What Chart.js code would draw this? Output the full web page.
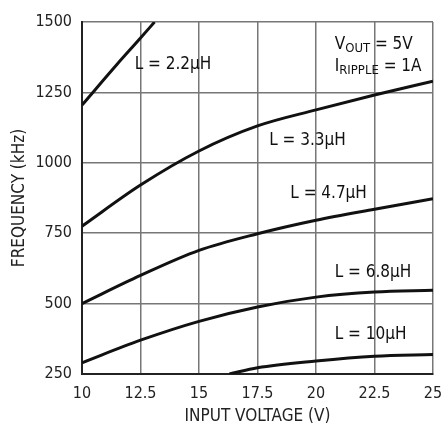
<!DOCTYPE html>
<html>
<head>
<meta charset="utf-8">
<script src="https://cdn.jsdelivr.net/npm/chart.js@4"></script>
<style>
  html, body { margin: 0; padding: 0; background: #fff; }
  #wrap { width: 443px; height: 425px; }
</style>
</head>
<body>
<div id="wrap"><canvas id="myChart"></canvas></div>
<script>
// input voltage (V) / frequency (kHz)
var l22x = [10, 11.5, 12.5, 13.1];
var l22y = [1205, 1350, 1443, 1500];
var l33x = [10, 12.5, 15, 17.5, 20, 22.5, 25];
var l33y = [775, 921, 1042, 1131, 1188, 1241, 1290];
var l47x = [10, 12.5, 15, 17.5, 20, 22.5, 25];
var l47y = [500, 600, 689, 748, 796, 835, 872];
var l68x = [10, 12.5, 15, 17.5, 20, 22.5, 25];
var l68y = [290, 370, 437, 488, 523, 541, 547];
var l10x = [16.3, 17.5, 20, 22.5, 25];
var l10y = [250, 272, 296, 313, 319];

var xTicks = [10, 12.5, 15, 17.5, 20, 22.5, 25];
var yTicks = [250, 500, 750, 1000, 1250, 1500];

// curve labels: [text, x, y]
var curveLabels = [
    ['L = 2.2µH', 12.25, 1350],
    ['L = 3.3µH', 18.0, 1080],
    ['L = 4.7µH', 18.9, 890],
    ['L = 6.8µH', 20.8, 610],
    ['L = 10µH', 20.8, 390]
];

var FONT = "'Liberation Sans Narrow', 'DejaVu Sans Condensed', 'Liberation Sans', sans-serif";

function pts(xs, ys) {
    var out = [];
    for (var i = 0; i < xs.length; i++) {
        out.push({x: xs[i], y: ys[i]});
    }
    return out;
}

function curve(xs, ys) {
    return {
        data: pts(xs, ys),
        borderColor: '#111',
        borderWidth: 3,
        pointRadius: 0,
        cubicInterpolationMode: 'monotone',
        fill: false
    };
}

var labelPlugin = {
    id: 'labels',
    afterDatasetsDraw: function(chart) {
        var ctx = chart.ctx;
        var xs = chart.scales.x, ys = chart.scales.y;
        ctx.save();
        ctx.fillStyle = '#111';
        ctx.font = '17px ' + FONT;
        ctx.textBaseline = 'middle';
        ctx.textAlign = 'left';
        curveLabels.forEach(function(l) {
            ctx.fillText(l[0], xs.getPixelForValue(l[1]), ys.getPixelForValue(l[2]));
        });
        // V_OUT / I_RIPPLE note with subscripts
        var x0 = xs.getPixelForValue(20.8);
        var y1 = ys.getPixelForValue(1420);
        var y2 = ys.getPixelForValue(1340);
        var w;
        ctx.font = '17px ' + FONT;
        ctx.fillText('V', x0, y1);
        w = ctx.measureText('V').width;
        ctx.font = '13px ' + FONT;
        ctx.fillText('OUT', x0 + w, y1 + 4);
        w += ctx.measureText('OUT').width;
        ctx.font = '17px ' + FONT;
        ctx.fillText(' = 5V', x0 + w, y1);
        ctx.fillText('I', x0, y2);
        w = ctx.measureText('I').width;
        ctx.font = '13px ' + FONT;
        ctx.fillText('RIPPLE', x0 + w, y2 + 4);
        w += ctx.measureText('RIPPLE').width;
        ctx.font = '17px ' + FONT;
        ctx.fillText(' = 1A', x0 + w, y2);
        ctx.restore();
    }
};

var myChart = document.getElementById('myChart').getContext('2d');
Chart.defaults.font.family = FONT;
Chart.defaults.color = '#222';

new Chart(myChart, {
    type: 'line',
    data: {
        datasets: [
            curve(l22x, l22y),
            curve(l33x, l33y),
            curve(l47x, l47y),
            curve(l68x, l68y),
            curve(l10x, l10y)
        ]
    },
    options: {
        responsive: true,
        maintainAspectRatio: false,
        animation: false,
        layout: { padding: { left: 0, right: 10, top: 22, bottom: 0 } },
        plugins: {
            legend: { display: false },
            tooltip: { enabled: false }
        },
        scales: {
            x: {
                type: 'linear',
                min: 10,
                max: 25,
                afterBuildTicks: function(s) { s.ticks = xTicks.map(function(v) { return {value: v}; }); },
                afterFit: function(s) { s.height = 51; s.paddingLeft = 0; s.paddingRight = 0; },
                grid: { color: '#777', lineWidth: 1.5, drawTicks: false },
                border: { color: '#222', width: 2 },
                ticks: { padding: 10, maxRotation: 0, font: { size: 16 }, color: '#222',
                         callback: function(v) { return String(v); } },
                title: { display: true, text: 'INPUT VOLTAGE (V)', font: { size: 17, lineHeight: 1.0 }, color: '#222', padding: 0 }
            },
            y: {
                type: 'linear',
                min: 250,
                max: 1500,
                afterBuildTicks: function(s) { s.ticks = yTicks.map(function(v) { return {value: v}; }); },
                afterFit: function(s) { s.width = 82; s.paddingTop = 0; s.paddingBottom = 0; },
                grid: { color: '#777', lineWidth: 1.5, drawTicks: false },
                border: { color: '#222', width: 2 },
                ticks: { padding: 10, font: { size: 16 }, color: '#222',
                         callback: function(v) { return String(v); } },
                title: { display: true, text: 'FREQUENCY (kHz)', font: { size: 17 }, color: '#222', padding: { top: 9, bottom: 0 } }
            }
        }
    },
    plugins: [labelPlugin]
});
</script>
</body>
</html>
